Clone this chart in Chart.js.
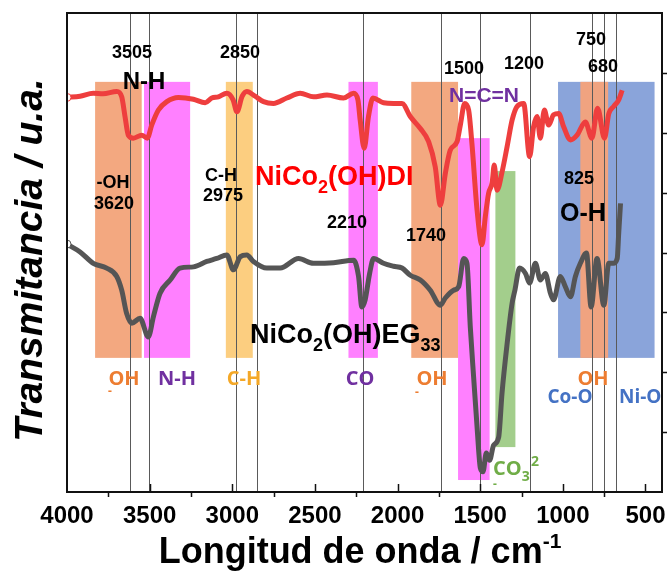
<!DOCTYPE html>
<html>
<head>
<meta charset="utf-8">
<script src="https://cdn.jsdelivr.net/npm/chart.js@4.4.1/dist/chart.umd.min.js"></script>
<style>
  html, body { margin: 0; padding: 0; background: #fff; overflow: hidden; }
  #wrap { width: 669px; height: 573px; }
</style>
</head>
<body>
<div id="wrap"><canvas id="ftir"></canvas></div>
<script>
// wavenumbers (cm-1) and transmittance (a.u.)
const wnDI = [4000,3921,3841,3782,3699,3669,3649,3629,3598,3548,3514,3487,3447,3396,3326,3235,3164,3124,3084,3033,
  2995,2972,2940,2912,2862,2811,2751,2670,2589,2509,2427,2327,2266,2240,2226,2202,2176,2149,2085,2024,
  1973,1923,1862,1812,1772,1741,1711,1681,1640,1620,1594,1570,1550,1519,1489,1469,1449,1428,1415,1398,
  1368,1337,1307,1277,1237,1201,1177,1156,1136,1112,1086,1056,1025,995,954,914,864,824,790,748,722,692,662,641];
const tDI = [6.59,6.61,6.66,6.65,6.69,6.60,6.27,5.96,5.91,5.96,5.91,6.13,6.38,6.52,6.59,6.56,6.50,6.58,6.60,6.66,
  6.55,6.35,6.61,6.69,6.61,6.52,6.49,6.58,6.66,6.60,6.63,6.58,6.66,6.55,6.21,5.74,6.27,6.58,6.50,6.49,
  6.49,6.27,6.07,5.85,5.43,4.79,5.32,5.71,5.85,6.13,6.49,6.38,5.82,4.71,4.13,4.60,4.99,5.16,5.46,5.04,
  5.34,5.77,6.21,6.44,6.49,5.60,6.10,6.27,5.91,6.38,6.13,6.30,6.32,6.10,5.88,5.96,6.18,5.91,6.41,5.91,6.32,6.44,6.55,6.71];

const wnEG = [4000,3921,3841,3760,3699,3669,3639,3608,3558,3508,3477,3437,3376,3316,3235,3154,3094,3033,2993,2952,
  2912,2872,2791,2710,2599,2509,2387,2266,2236,2216,2196,2169,2145,2085,2024,1973,1923,1862,1802,1741,
  1711,1661,1630,1600,1580,1560,1540,1519,1499,1483,1463,1443,1419,1388,1368,1337,1307,1290,1262,1226,
  1201,1166,1136,1106,1075,1056,1015,985,954,924,894,857,829,793,752,722,695,671,662,651];
const tEG = [4.14,4.01,3.82,3.74,3.60,3.37,2.98,2.82,2.90,2.59,2.93,3.32,3.54,3.74,3.76,3.85,3.90,3.96,3.71,3.93,
  3.96,3.85,3.74,3.74,3.90,3.82,3.83,3.87,3.60,3.09,3.21,3.65,3.90,3.82,3.77,3.74,3.62,3.54,3.37,3.12,
  3.24,3.37,3.43,3.90,3.82,2.76,1.93,1.09,0.40,0.34,0.65,0.53,0.78,0.92,1.65,2.48,3.15,3.37,3.74,3.65,
  3.49,3.82,3.54,3.65,3.32,3.21,3.60,3.43,3.26,3.60,3.82,3.99,3.09,3.90,3.12,3.82,3.82,3.90,4.32,4.82];

// marked peak positions (vertical guide lines)
const peakLines = [3620, 3505, 2975, 2850, 2210, 1740, 1500, 1200, 825, 750, 680];
// x tick values
const xLabels = [4000, 3500, 3000, 2500, 2000, 1500, 1000, 500];
const xMinor = [3750, 3250, 2750, 2250, 1750, 1250, 750];
const xMajor = [3500, 3000, 2500, 2000, 1500, 1000, 500];
const yTicks = [1, 2, 3, 4, 5, 6, 7];

// band regions: [from, to, top, bottom, colour]
const bands = [
  [1029, 445, 6.85, 2.24, 'rgb(138,164,218)'],
  [3830, 3548, 6.85, 2.24, 'rgb(243,168,128)'],
  [3534, 3255, 6.85, 2.24, 'rgb(255,128,255)'],
  [3039, 2876, 6.85, 2.24, 'rgb(252,206,128)'],
  [2297, 2119, 6.85, 2.24, 'rgb(255,128,255)'],
  [1917, 1634, 6.85, 2.24, 'rgb(243,168,128)'],
  [1634, 1443, 5.91, 0.20, 'rgb(255,128,255)'],
  [1408, 1287, 5.36, 0.75, 'rgb(163,206,140)'],
  [894, 726, 6.85, 2.24, 'rgb(240,163,128)']
];

const FONT = '"Liberation Sans", Arial, sans-serif';
const LFONT = '"Open Sans", "Liberation Sans", sans-serif';

function txt(ctx, s, x, y, size, color, align, family, weight) {
  ctx.font = (weight || 'bold') + ' ' + size + 'px ' + (family || FONT);
  ctx.fillStyle = color;
  ctx.textAlign = align || 'center';
  ctx.textBaseline = 'alphabetic';
  ctx.fillText(s, x, y + size * 0.36);
}

// runs of [text, size, dy] drawn left to right
function runs(ctx, parts, x, y, color, family) {
  ctx.fillStyle = color;
  ctx.textAlign = 'left';
  ctx.textBaseline = 'alphabetic';
  let cx = x;
  parts.forEach(p => {
    ctx.font = 'bold ' + p[1] + 'px ' + (family || FONT);
    ctx.fillText(p[0], cx, y + p[2]);
    cx += ctx.measureText(p[0]).width;
  });
  return cx;
}

const deco = {
  id: 'deco',
  beforeDatasetsDraw(chart) {
    const { ctx, chartArea: a, scales: { x, y } } = chart;
    ctx.save();
    bands.forEach(b => {
      const x0 = x.getPixelForValue(b[0]), x1 = x.getPixelForValue(b[1]);
      const y0 = y.getPixelForValue(b[2]), y1 = y.getPixelForValue(b[3]);
      ctx.fillStyle = b[4];
      ctx.fillRect(x0, y0, x1 - x0, y1 - y0);
    });
    ctx.strokeStyle = '#5a5a5a';
    ctx.lineWidth = 1;
    peakLines.forEach(w => {
      const px = Math.round(x.getPixelForValue(w)) + 0.5;
      ctx.beginPath();
      ctx.moveTo(px, a.top);
      ctx.lineTo(px, a.bottom);
      ctx.stroke();
    });
    ctx.restore();
  },
  afterDatasetsDraw(chart) {
    const ctx = chart.ctx;
    ctx.save();
    // peak numbers
    [['3505', 132, 52], ['2850', 240, 52], ['1500', 464, 68], ['1200', 524, 63], ['750', 591, 39],
     ['680', 603, 66], ['3620', 114, 203], ['2975', 223, 195], ['2210', 347, 222], ['1740', 426, 235],
     ['825', 579, 178], ['-OH', 113, 182], ['C-H', 221, 175]].forEach(t => txt(ctx, t[0], t[1], t[2], 18, '#000'));
    txt(ctx, 'N-H', 144, 80, 24, '#000');
    txt(ctx, 'O-H', 583, 212, 25, '#000');
    txt(ctx, 'N=C=N', 484, 94, 21, '#7030a0');
    // sample names
    runs(ctx, [['NiCo', 27, 0], ['2', 18, 8], ['(OH)DI', 27, 0]], 255, 185, '#ff0000');
    runs(ctx, [['NiCo', 27, 0], ['2', 18, 8], ['(OH)EG', 27, 0], ['33', 18, 8]], 250, 343, '#000');
    // band labels
    const orange = '#ed7d31', purple = '#7030a0', blue = '#4472c4', green = '#70ad47';
    txt(ctx, 'OH', 124, 378, 20, orange, 'center', LFONT);
    txt(ctx, '-', 110, 391, 12, orange, 'center', LFONT);
    txt(ctx, 'N-H', 177, 378, 20, purple, 'center', LFONT);
    txt(ctx, 'C-H', 244, 378, 20, '#f4a828', 'center', LFONT);
    txt(ctx, 'CO', 360, 378, 20, purple, 'center', LFONT);
    txt(ctx, 'OH', 432, 378, 20, orange, 'center', LFONT);
    txt(ctx, '-', 417, 392, 12, orange, 'center', LFONT);
    txt(ctx, 'OH', 593, 378, 20, orange, 'center', LFONT);
    txt(ctx, 'Co-O', 570, 396, 19, blue, 'center', LFONT);
    txt(ctx, 'Ni-O', 619, 396, 19, blue, 'left', LFONT);
    runs(ctx, [['CO', 20, 0], ['3', 14, 6]], 493, 475, green, LFONT);
    runs(ctx, [['2', 14, 0]], 531, 466, green, LFONT);
    txt(ctx, '-', 495, 484, 12, green, 'center', LFONT);
    ctx.restore();
  },
  afterDraw(chart) {
    const { ctx, chartArea: a, scales: { x, y } } = chart;
    ctx.save();
    ctx.strokeStyle = '#111';
    ctx.lineWidth = 2;
    ctx.strokeRect(a.left, a.top, a.right - a.left, a.bottom - a.top);
    ctx.lineWidth = 1.5;
    ctx.beginPath();
    xMajor.forEach(w => {
      const px = Math.round(x.getPixelForValue(w)) + 0.5;
      ctx.moveTo(px, a.bottom); ctx.lineTo(px, a.bottom - 8);
    });
    xMinor.forEach(w => {
      const px = Math.round(x.getPixelForValue(w)) + 0.5;
      ctx.moveTo(px, a.bottom); ctx.lineTo(px, a.bottom + 5);
    });
    yTicks.forEach(v => {
      const py = Math.round(y.getPixelForValue(v)) + 0.5;
      ctx.moveTo(a.right, py); ctx.lineTo(a.right + 5, py);
    });
    ctx.stroke();
    // axis titles
    ctx.fillStyle = '#000';
    ctx.font = 'bold 36px ' + FONT;
    ctx.textBaseline = 'alphabetic';
    const main = 'Longitud de onda / cm';
    const w1 = ctx.measureText(main).width;
    ctx.font = 'bold 21px ' + FONT;
    const w2 = ctx.measureText('-1').width;
    const x0 = 360 - (w1 + w2) / 2;
    runs(ctx, [[main, 36, 0], ['-1', 21, -15]], x0, 563, '#000');
    ctx.translate(42, 260);
    ctx.rotate(-Math.PI / 2);
    ctx.font = 'italic bold 39px ' + FONT;
    ctx.textAlign = 'center';
    ctx.fillText('Transmitancia / u.a.', 0, 0);
    ctx.restore();
  }
};

const firstDot = c => (c.dataIndex === 0 ? 4 : 0);

new Chart(document.getElementById('ftir'), {
  type: 'line',
  data: {
    datasets: [
      {
        label: 'NiCo2(OH)DI',
        data: wnDI.map((w, i) => ({ x: w, y: tDI[i] })),
        borderColor: 'rgb(238,62,62)',
        borderWidth: 5,
        pointRadius: firstDot,
        pointBackgroundColor: '#fff',
        pointBorderColor: 'rgb(238,62,62)',
        pointBorderWidth: 1,
        cubicInterpolationMode: 'monotone'
      },
      {
        label: 'NiCo2(OH)EG33',
        data: wnEG.map((w, i) => ({ x: w, y: tEG[i] })),
        borderColor: 'rgb(85,85,85)',
        borderWidth: 5,
        pointRadius: firstDot,
        pointBackgroundColor: '#fff',
        pointBorderColor: 'rgb(85,85,85)',
        pointBorderWidth: 1,
        cubicInterpolationMode: 'monotone'
      }
    ]
  },
  options: {
    responsive: true,
    maintainAspectRatio: false,
    animation: false,
    devicePixelRatio: 1,
    layout: { padding: { left: 67, right: 7, top: 13, bottom: 0 } },
    plugins: { legend: { display: false }, tooltip: { enabled: false } },
    scales: {
      x: {
        type: 'linear',
        reverse: true,
        min: 400,
        max: 4000,
        grid: { display: false, drawTicks: false },
        border: { display: false },
        afterBuildTicks: s => { s.ticks = xLabels.map(v => ({ value: v })); },
        ticks: {
          autoSkip: false,
          maxRotation: 0,
          padding: 10,
          color: '#000',
          font: { family: FONT, size: 24, weight: 'bold' },
          callback: v => String(v)
        },
        afterFit: s => { s.height = 81; s.paddingLeft = 0; s.paddingRight = 0; }
      },
      y: { display: false, min: 0, max: 8 }
    }
  },
  plugins: [deco]
});
</script>
</body>
</html>
